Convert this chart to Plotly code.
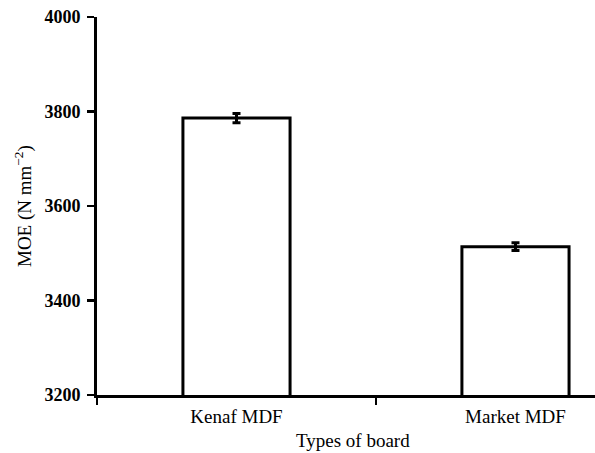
import plotly.graph_objects as go

categories = ["Kenaf MDF", "Market MDF"]
moe_values = [3786, 3514]
moe_errors = [10, 8]
y_ticks = [3200, 3400, 3600, 3800, 4000]

FONT = "Liberation Serif"
x_pos = list(range(len(categories)))

fig = go.Figure()
fig.add_trace(go.Bar(
    x=x_pos, y=moe_values, width=0.384,
    marker=dict(color="white", line=dict(color="black", width=3)),
    error_y=dict(type="data", array=moe_errors, visible=True,
                 color="black", thickness=3, width=4),
))

fig.update_layout(
    width=595, height=453,
    margin=dict(l=97, r=0, t=17, b=58),
    paper_bgcolor="white", plot_bgcolor="white",
    showlegend=False,
    font=dict(family=FONT, color="black"),
    bargap=0,
)
fig.update_xaxes(
    range=[-0.5, 1.285],
    tickvals=x_pos, ticktext=categories,
    ticks="outside", ticklen=0, tickwidth=0,
    tickfont=dict(family=FONT, size=19, color="black"),
    ticklabelstandoff=2,
    showline=True, linecolor="black", linewidth=3,
    showgrid=False, zeroline=False,
    minor=dict(tickvals=[-0.5, 0.5, 1.5], ticks="outside", ticklen=7,
               tickwidth=2.5, tickcolor="black", showgrid=False),
)
fig.update_yaxes(
    range=[3200, 4000],
    tickvals=y_ticks,
    ticks="outside", ticklen=7, tickwidth=2.5, tickcolor="black",
    tickfont=dict(family=FONT, size=18, color="black", weight="bold"),
    ticklabelstandoff=3,
    showline=True, linecolor="black", linewidth=3,
    showgrid=False, zeroline=False,
)
fig.add_annotation(
    text="Types of board", xref="paper", yref="paper",
    x=(353 - 97) / 498, y=-(440 - 395) / 378, xanchor="center", yanchor="middle",
    showarrow=False, font=dict(family=FONT, size=19, color="black"),
)
fig.add_annotation(
    text="MOE (N mm<sup>−2</sup>)", xref="paper", yref="paper",
    x=(23 - 97) / 498, y=0.5, xanchor="center", yanchor="middle",
    textangle=-90,
    showarrow=False, font=dict(family=FONT, size=19, color="black"),
)

fig.write_html(
    "out.html",
    config={"displayModeBar": False, "staticPlot": True},
    post_script="document.body.style.margin='0';document.body.style.overflow='hidden';",
)
